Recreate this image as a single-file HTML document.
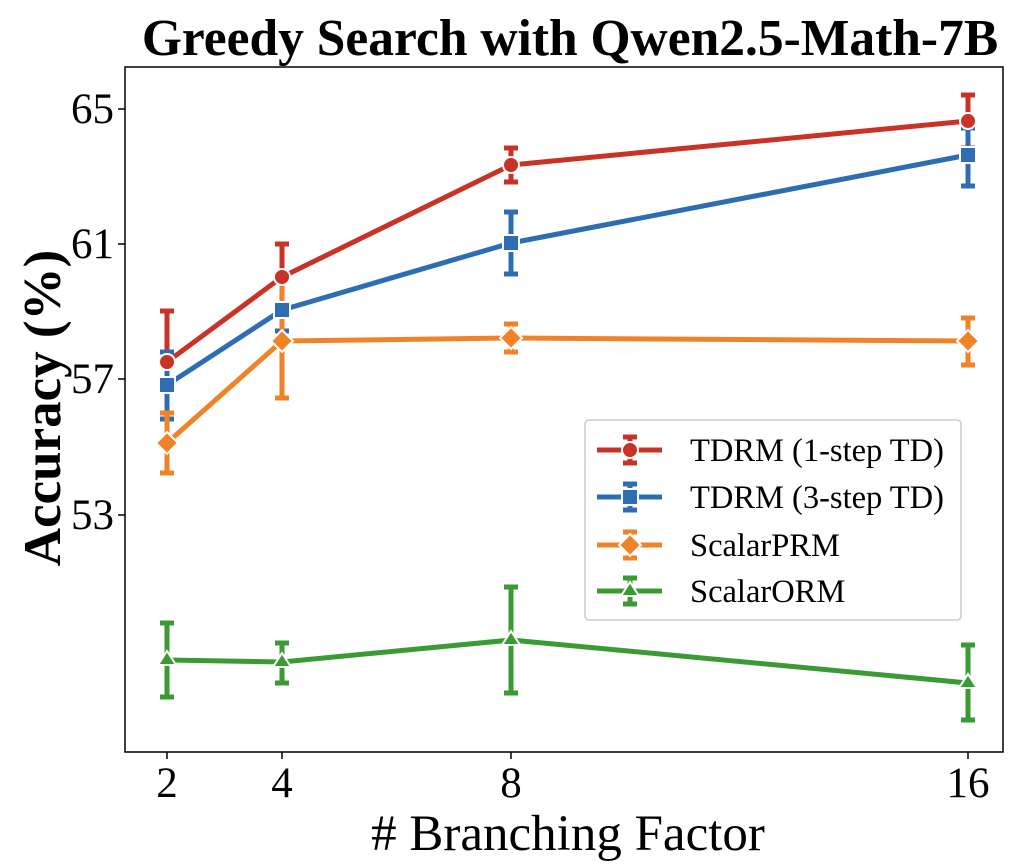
<!DOCTYPE html>
<html><head><style>body{margin:0;background:#fff}svg{display:block}</style></head><body>
<svg width="1024" height="866" xmlns="http://www.w3.org/2000/svg" font-family="Liberation Serif, serif">
<rect width="1024" height="866" fill="#fff"/>
<text x="570" y="55" text-anchor="middle" font-size="51.5" font-weight="bold">Greedy Search with Qwen2.5-Math-7B</text>
<rect x="125" y="67" width="878" height="685" fill="none" stroke="#000" stroke-width="1.5"/>
<g stroke="#000" stroke-width="1.5">
<line x1="118" y1="109" x2="125" y2="109"/><line x1="118" y1="244" x2="125" y2="244"/><line x1="118" y1="379" x2="125" y2="379"/><line x1="118" y1="515" x2="125" y2="515"/>
<line x1="167" y1="752" x2="167" y2="759"/><line x1="282" y1="752" x2="282" y2="759"/><line x1="511" y1="752" x2="511" y2="759"/><line x1="968" y1="752" x2="968" y2="759"/>
</g>
<g font-size="43" text-anchor="end"><text x="114" y="123">65</text><text x="114" y="258">61</text><text x="114" y="393">57</text><text x="114" y="529">53</text></g>
<g font-size="43" text-anchor="middle"><text x="167" y="797">2</text><text x="282" y="797">4</text><text x="511" y="797">8</text><text x="968" y="797">16</text></g>
<text x="568" y="850" text-anchor="middle" font-size="51"># Branching Factor</text>
<text transform="translate(60,408) rotate(-90)" text-anchor="middle" font-size="53" font-weight="bold">Accuracy (%)</text>
<g fill="none" stroke-width="5" stroke-linejoin="round">
<g stroke="#c83227"><path d="M167,311V362M160,311h14M282,244V310M275,244h14M511,148V182M504,148h14M504,182h14M968,95V148M961,95h14M961,148h14"/>
<polyline points="167,362 282,277 511,165 968,121"/></g>
<g stroke="#2e6db4"><path d="M167,352V419M160,352h14M160,419h14M282,290V331M275,331h14M511,212V274M504,212h14M504,274h14M968,128V186M961,128h14M961,186h14"/>
<polyline points="167,385 282,310 511,243 968,155"/></g>
<g stroke="#f08228"><path d="M167,413V473M160,413h14M160,473h14M282,285V398M275,398h14M511,324V352M504,324h14M504,352h14M968,318V365M961,318h14M961,365h14"/>
<polyline points="167,443 282,341 511,338 968,341"/></g>
<g stroke="#3a9a34"><path d="M167,623V697M160,623h14M160,697h14M282,643V683M275,643h14M275,683h14M511,587V693M504,587h14M504,693h14M968,645V720M961,645h14M961,720h14"/>
<polyline points="167,660 282,662 511,640 968,683"/></g>
</g>
<g stroke="#fff" stroke-width="2">
<g fill="#c83227"><circle cx="167" cy="362" r="8"/><circle cx="282" cy="277" r="8"/><circle cx="511" cy="165" r="8"/><circle cx="968" cy="121" r="8"/></g>
<g fill="#2e6db4"><rect x="159" y="377" width="16" height="16"/><rect x="274" y="302" width="16" height="16"/><rect x="503" y="235" width="16" height="16"/><rect x="960" y="147" width="16" height="16"/></g>
<g fill="#f08228"><path d="M167,432l11,11-11,11-11-11z"/><path d="M282,330l11,11-11,11-11-11z"/><path d="M511,327l11,11-11,11-11-11z"/><path d="M968,330l11,11-11,11-11-11z"/></g>
<g fill="#3a9a34"><path d="M167,651l9,14h-18z"/><path d="M282,653l9,14h-18z"/><path d="M511,631l9,14h-18z"/><path d="M968,674l9,14h-18z"/></g>
</g>
<rect x="585" y="420" width="376" height="200" rx="4" fill="#fff" fill-opacity="0.85" stroke="#ccc" stroke-width="1.5"/>
<g fill="none" stroke-width="5">
<g stroke="#c83227"><path d="M597,450h65M630,437V463M623,437h14M623,463h14"/></g>
<g stroke="#2e6db4"><path d="M597,497h65M630,484V510M623,484h14M623,510h14"/></g>
<g stroke="#f08228"><path d="M597,545h65M630,532V558M623,532h14M623,558h14"/></g>
<g stroke="#3a9a34"><path d="M597,591h65M630,578V604M623,578h14M623,604h14"/></g>
</g>
<g stroke="#fff" stroke-width="2">
<circle cx="630" cy="450" r="8" fill="#c83227"/>
<rect x="622" y="489" width="16" height="16" fill="#2e6db4"/>
<path d="M630,534l11,11-11,11-11-11z" fill="#f08228"/>
<path d="M630,582l9,14h-18z" fill="#3a9a34"/>
</g>
<g font-size="32.5"><text x="690" y="461">TDRM (1-step TD)</text><text x="690" y="508">TDRM (3-step TD)</text><text x="690" y="556">ScalarPRM</text><text x="690" y="602">ScalarORM</text></g>
</svg>
</body></html>
